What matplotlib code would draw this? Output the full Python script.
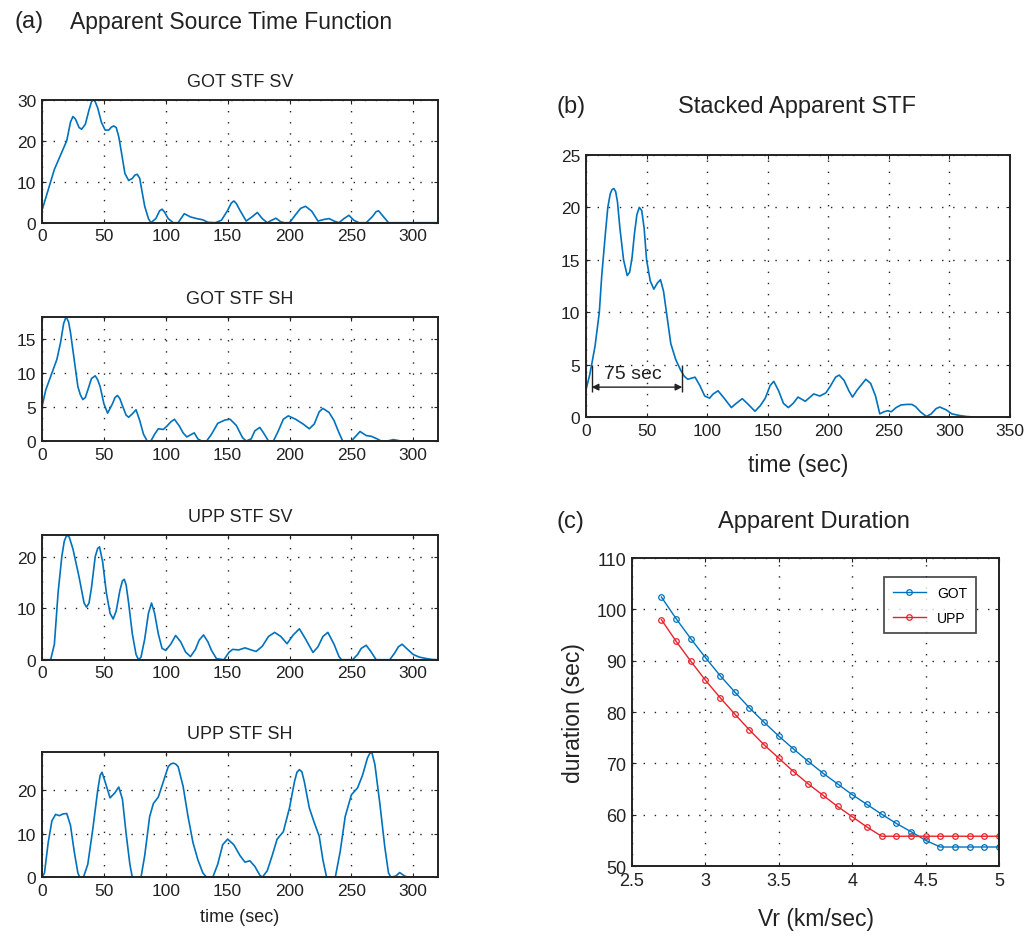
import matplotlib
matplotlib.use("Agg")
import matplotlib.pyplot as plt

plt.rcParams["font.family"] = ["Liberation Sans", "DejaVu Sans"]

BLUE = "#0072bd"
RED = "#e8222a"
INK = "#222222"

# ---- (a) apparent source time functions ----
t_got_sv = [0, 5, 10, 15, 20, 23, 25, 27, 30, 32, 35, 38, 40, 41.5, 43, 45, 48, 51, 54, 56, 58,
            60, 62, 64, 67, 70, 73, 75, 77, 79, 80, 83, 86, 88, 92, 95, 97, 99, 102, 106, 110,
            115, 120, 125, 130, 134, 140, 145, 150, 153, 155, 157, 160, 165, 170, 174, 178, 182,
            185, 189, 193, 196, 200, 205, 209, 213, 218, 223, 228, 232, 236, 240, 244, 248, 252,
            256, 262, 267, 270, 272, 275, 280, 320]
v_got_sv = [3, 8, 13, 16.5, 20, 24.5, 25.9, 25.3, 23.2, 22.8, 24, 27.5, 29.5, 30, 29.5, 28, 24.5,
            22.6, 22.6, 23.3, 23.6, 23.2, 21, 17.5, 12, 10.3, 10.8, 11.6, 11.8, 10.8, 9, 4, 1, 0,
            1, 2.9, 3.3, 2.6, 1, 0, 0, 2.2, 1.4, 1.0, 0.7, 0.1, 0, 0.6, 3, 4.8, 5.3, 4.7, 3,
            0.4, 1.5, 2.5, 1, 0, 0.5, 1.1, 0.2, 0, 0, 2, 3.5, 4.0, 2.8, 0.4, 0.8, 1.0, 0.4, 0, 1,
            1.8, 0.6, 0, 0, 1.5, 2.7, 2.9, 1.8, 0, 0]

t_got_sh = [0, 3, 7, 12, 15, 17.5, 19.5, 21.5, 23, 26, 29, 31, 33, 35, 37, 40, 43, 45, 47, 50,
            53, 57, 59, 61, 63, 65, 68, 70, 73, 76, 79, 82, 85, 88, 91, 94, 98, 101, 104, 107,
            111, 114, 117, 120, 123, 126, 129, 133, 137, 142, 148, 152, 157, 162, 165, 169, 172,
            176, 179, 183, 187, 191, 195, 199, 205, 211, 216, 220, 224, 227, 232, 236, 240, 243,
            250, 254, 257, 262, 266, 271, 274, 279, 284, 290, 320]
v_got_sh = [5, 7.5, 9.5, 12, 14.5, 17.3, 18.3, 17.5, 16, 12, 8, 6.8, 6.1, 6.4, 7.5, 9.2, 9.6, 9.0,
            8, 5.5, 4.1, 5.5, 6.4, 6.7, 6.2, 5.2, 3.8, 3.5, 4.0, 4.6, 3, 1, 0, 0, 1, 1.8, 1.7,
            2.2, 2.8, 3.2, 2.2, 1.2, 0.6, 0.9, 1.2, 0.3, 0, 0, 1, 2.6, 3.1, 3.2, 2.3, 0.5, 0,
            0.3, 1.5, 2, 1.2, 0, 0, 1.5, 3.2, 3.7, 3.2, 2.5, 1.8, 2.5, 4.3, 4.8, 4.2, 3, 1.2, 0,
            0, 0.8, 1.4, 0.8, 0.7, 0.3, 0, 0, 0.2, 0, 0]

t_upp_sv = [0, 7, 10, 13, 16, 18, 20, 22, 25, 30, 34, 36, 38, 40, 43, 45, 46.5, 49, 52, 55, 57.5,
            60, 63, 65, 66.5, 68, 70, 73, 76, 78, 80, 83, 86, 88.5, 91, 94, 97, 100, 104, 108,
            112, 116, 120, 124, 127, 130.5, 134, 137, 141, 147, 151, 154, 159, 164, 169, 173,
            178, 183, 188, 193, 198, 203, 208, 213, 219, 223, 227, 231, 236, 240, 242, 251, 255,
            258, 262, 266, 270, 281, 285, 288, 291, 295, 300, 305, 310, 315, 320]
v_upp_sv = [0, 0, 3, 13, 20, 23, 24.2, 23.8, 21.5, 16, 11, 10.2, 11, 14, 20, 21.6, 21.9, 19, 13,
            9, 7.9, 9.5, 13.5, 15.3, 15.6, 14.5, 11, 5, 1, 0, 0.5, 4, 9, 11, 9, 5, 2.2, 1.8, 3,
            4.7, 3.5, 1.5, 0.6, 2, 3.8, 4.8, 3.5, 1.8, 0.2, 0, 1.4, 2.0, 1.9, 2.3, 1.9, 1.6, 2.6,
            4.5, 5.3, 4.5, 3.1, 4.8, 6.0, 4, 1.4, 2.5, 4.5, 5.3, 3, 0.6, 0, 0, 1, 2.2, 2.8, 1.5,
            0, 0, 1.3, 2.5, 3.0, 2.1, 1, 0.5, 0.25, 0.05, 0]

t_upp_sh = [0, 2, 5, 8, 11, 14, 17, 20, 23, 26, 29, 30.5, 33.5, 37, 41, 45, 47, 48.5, 51, 55, 59,
            62, 65, 68, 71, 73, 80, 83, 87, 90, 94, 98, 102, 104, 106, 108, 110, 114, 118, 122,
            126, 130, 133, 138, 142, 146, 150, 155, 160, 164, 168, 172, 176, 178, 182, 186, 190,
            195, 200, 204, 206, 208, 210, 212, 216, 220, 224, 227, 230, 237, 241, 245, 250, 255,
            259, 263, 265, 266.5, 269, 273, 277, 280, 282, 286, 289, 293, 296, 320]
v_upp_sh = [0, 1, 8, 13, 14.5, 14.2, 14.6, 14.7, 12, 6, 1, 0, 0, 3, 11, 20, 23.5, 24.2, 22, 18.3,
            19.5, 20.8, 18, 10, 3, 0, 0, 5, 14, 17, 18.5, 22, 25.5, 26.1, 26.3, 26.1, 25.5, 21,
            14, 8, 4, 1, 0, 0, 3, 7.5, 8.8, 7.5, 5, 3.5, 3.8, 2.5, 0.5, 0, 1.5, 5, 8.8, 10.5,
            16, 22, 24.2, 24.8, 24.3, 22, 16, 12.6, 9.5, 4, 0, 0, 6, 14, 19, 20.6, 23.5, 27.5,
            28.6, 28.8, 26, 17, 7, 1, 0, 0.3, 1.1, 0.3, 0, 0]

# ---- (b) stacked apparent STF ----
t_stack = [0, 3, 5, 7.5, 11, 13, 16, 18, 20, 21.5, 23, 24.5, 26, 28, 31, 34, 36, 38, 40, 42,
           44, 46, 48, 50, 53, 56, 59, 61.5, 64, 67, 70, 74, 78, 81, 84, 87, 90, 94, 98, 102,
           105, 109, 114, 120, 124, 129, 134, 139.5, 144, 148, 152, 155, 159, 163, 167, 171, 175,
           181, 184, 188, 193, 198, 202, 206, 209, 213, 217, 220, 224, 231, 235, 239, 242.5, 246,
           249, 252, 256, 260, 265, 269, 272, 276, 281, 285, 289, 292, 297, 302, 308, 314, 320]
v_stack = [2.6, 4, 5.2, 6.8, 10, 13.5, 17.5, 20, 21.3, 21.7, 21.8, 21.5, 20.5, 18, 15, 13.5, 13.8,
           15.2, 17.5, 19.3, 20, 19.7, 18, 15, 13, 12.2, 12.8, 13.1, 12, 9.5, 7, 5.5, 4.5, 3.9,
           3.6, 3.7, 3.8, 3, 2, 1.8, 2.2, 2.5, 1.8, 0.9, 1.3, 1.75, 1.2, 0.55, 1.1, 1.8, 3, 3.4,
           2.5, 1.3, 0.9, 1.3, 1.9, 1.5, 1.8, 2.2, 2.0, 2.3, 3, 3.8, 4.0, 3.5, 2.5, 1.9, 2.6,
           3.6, 3.2, 2, 0.3, 0.5, 0.6, 0.5, 0.9, 1.15, 1.2, 1.2, 1.0, 0.5, 0.05, 0.3, 0.8, 0.95,
           0.7, 0.3, 0.15, 0.05, 0]

# ---- (c) apparent duration vs rupture velocity ----
vr = [2.7, 2.8, 2.9, 3.0, 3.1, 3.2, 3.3, 3.4, 3.5, 3.6, 3.7, 3.8, 3.9, 4.0, 4.1, 4.2, 4.3, 4.4,
      4.5, 4.6, 4.7, 4.8, 4.9, 5.0]
dur_got = [102.4, 98.2, 94.3, 90.6, 87.1, 83.9, 80.8, 78.0, 75.3, 72.8, 70.4, 68.1, 66.0, 63.9,
           62.0, 60.1, 58.3, 56.7, 55.0, 53.7, 53.7, 53.7, 53.7, 53.7]
dur_upp = [98.0, 93.8, 89.9, 86.2, 82.8, 79.6, 76.5, 73.6, 71.0, 68.4, 66.0, 63.8, 61.6, 59.6,
           57.6, 55.8, 55.8, 55.8, 55.8, 55.8, 55.8, 55.8, 55.8, 55.8]

W, H = 1026, 937
fig = plt.figure(figsize=(W / 100, H / 100), dpi=100)


def box(l, t, r, b):
    # axes rectangle from pixel edges
    return [l / W, 1 - b / H, (r - l) / W, (b - t) / H]


def style(ax, fs):
    for s in ax.spines.values():
        s.set_linewidth(1.4)
        s.set_color(INK)
    ax.tick_params(direction="in", length=3, width=0.8, top=True, right=True,
                   labelsize=fs, pad=4, colors=INK)
    ax.grid(True, color=INK, linestyle=(0, (1, 7)), linewidth=1.0)


left_data = [
    ("GOT STF SV", t_got_sv, v_got_sv, [0, 10, 20, 30], (100.7, 223.7)),
    ("GOT STF SH", t_got_sh, v_got_sh, [0, 5, 10, 15], (317.7, 442)),
    ("UPP STF SV", t_upp_sv, v_upp_sv, [0, 10, 20], (536, 660.7)),
    ("UPP STF SH", t_upp_sh, v_upp_sh, [0, 10, 20], (753.3, 878.3)),
]
for i, (title, t, v, yt, (top, bot)) in enumerate(left_data):
    ax = fig.add_axes(box(42, top, 438, bot))
    ax.plot(t, v, color=BLUE, lw=1.2)
    ax.set_xlim(0, 320)
    ax.set_ylim(0, max(v))
    ax.set_xticks(range(0, 301, 50))
    ax.set_yticks(yt)
    style(ax, 12.5)
    ax.set_title(title, fontsize=13, pad=10, color=INK)
    if i == 3:
        ax.set_xlabel("time (sec)", fontsize=13, color=INK, labelpad=7)

# stacked STF
axb = fig.add_axes(box(586, 156, 1010, 418))
axb.plot(t_stack, v_stack, color=BLUE, lw=1.2)
axb.set_xlim(0, 350)
axb.set_ylim(0, 25)
axb.set_xticks(range(0, 351, 50))
axb.set_yticks(range(0, 26, 5))
style(axb, 12.5)
axb.set_xlabel("time (sec)", fontsize=16.5, color=INK, labelpad=11)
axb.vlines([4.7, 79.5], 2.4, 5.0, color=INK, lw=1.0)
axb.annotate("", xy=(4.7, 2.85), xytext=(79.5, 2.85),
             arrowprops=dict(arrowstyle="<|-|>", color=INK, lw=1.0,
                             mutation_scale=10, shrinkA=0, shrinkB=0))
axb.text(39, 3.35, "75 sec", ha="center", va="bottom", fontsize=14, color=INK)

# apparent duration
axc = fig.add_axes(box(632, 559, 999, 867))
axc.plot(vr, dur_got, color=BLUE, lw=1.0, marker="o", ms=4, mfc="none", mew=0.9, label="GOT")
axc.plot(vr, dur_upp, color=RED, lw=1.0, marker="o", ms=4, mfc="none", mew=0.9, label="UPP")
axc.set_xlim(2.5, 5)
axc.set_ylim(50, 110)
axc.set_xticks([2.5, 3, 3.5, 4, 4.5, 5])
axc.set_xticklabels(["2.5", "3", "3.5", "4", "4.5", "5"])
axc.set_yticks(range(50, 111, 10))
style(axc, 13)
axc.set_xlabel("Vr (km/sec)", fontsize=16.5, color=INK, labelpad=13)
axc.set_ylabel("duration (sec)", fontsize=16.5, color=INK, labelpad=8)
leg = axc.legend(loc="upper right", fontsize=10, frameon=True, fancybox=False,
                 handlelength=2.4, borderpad=0.6, labelspacing=0.8,
                 bbox_to_anchor=(0.955, 0.96))
leg.get_frame().set_edgecolor(INK)
leg.get_frame().set_linewidth(1.3)

# panel labels
fig.text(15 / W, 1 - 22 / H, "(a)", fontsize=17, va="center", color=INK)
fig.text(70 / W, 1 - 22 / H, "Apparent Source Time Function", fontsize=16.5, va="center",
         color=INK)
fig.text(557 / W, 1 - 107 / H, "(b)", fontsize=17, va="center", color=INK)
fig.text(678 / W, 1 - 107 / H, "Stacked Apparent STF", fontsize=17, va="center", color=INK)
fig.text(557 / W, 1 - 522 / H, "(c)", fontsize=17, va="center", color=INK)
fig.text(718 / W, 1 - 522 / H, "Apparent Duration", fontsize=17, va="center", color=INK)

fig.savefig("out.png", dpi=100)
